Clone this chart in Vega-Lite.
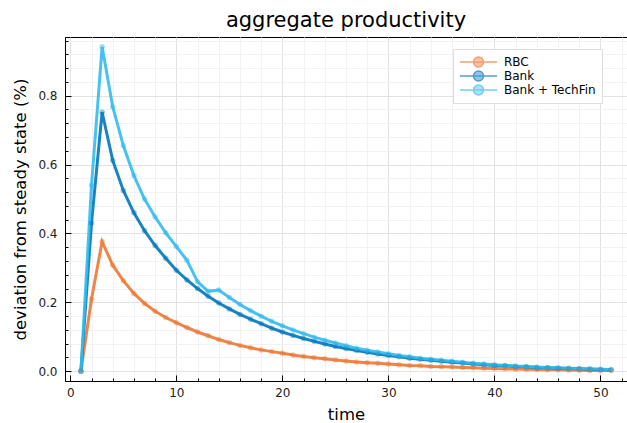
{
  "$schema": "https://vega.github.io/schema/vega-lite/v6.json",
  "width": 562,
  "height": 344,
  "autosize": {"type": "none"},
  "padding": {"left": 65, "top": 37, "right": 0, "bottom": 42},
  "background": "white",
  "title": {"text": "aggregate productivity", "font": "DejaVu Sans", "fontSize": 21, "fontWeight": "normal", "color": "#000", "anchor": "middle", "offset": 6},
  "config": {
    "view": {"stroke": "#000", "strokeWidth": 1},
    "font": "DejaVu Sans"
  },
  "data": {"values": [
    {"t":1,"s":"RBC","v":0},{"t":2,"s":"RBC","v":0.21},{"t":3,"s":"RBC","v":0.376},{"t":4,"s":"RBC","v":0.308},{"t":5,"s":"RBC","v":0.263},{"t":6,"s":"RBC","v":0.226},{"t":7,"s":"RBC","v":0.197},{"t":8,"s":"RBC","v":0.174},{"t":9,"s":"RBC","v":0.156},{"t":10,"s":"RBC","v":0.141},
    {"t":11,"s":"RBC","v":0.127},{"t":12,"s":"RBC","v":0.114},{"t":13,"s":"RBC","v":0.103},{"t":14,"s":"RBC","v":0.092},{"t":15,"s":"RBC","v":0.083},{"t":16,"s":"RBC","v":0.075},{"t":17,"s":"RBC","v":0.068},{"t":18,"s":"RBC","v":0.062},{"t":19,"s":"RBC","v":0.057},{"t":20,"s":"RBC","v":0.052},
    {"t":21,"s":"RBC","v":0.047},{"t":22,"s":"RBC","v":0.043},{"t":23,"s":"RBC","v":0.039},{"t":24,"s":"RBC","v":0.036},{"t":25,"s":"RBC","v":0.033},{"t":26,"s":"RBC","v":0.03},{"t":27,"s":"RBC","v":0.027},{"t":28,"s":"RBC","v":0.025},{"t":29,"s":"RBC","v":0.023},{"t":30,"s":"RBC","v":0.021},
    {"t":31,"s":"RBC","v":0.019},{"t":32,"s":"RBC","v":0.017},{"t":33,"s":"RBC","v":0.016},{"t":34,"s":"RBC","v":0.014},{"t":35,"s":"RBC","v":0.013},{"t":36,"s":"RBC","v":0.012},{"t":37,"s":"RBC","v":0.011},{"t":38,"s":"RBC","v":0.01},{"t":39,"s":"RBC","v":0.009},{"t":40,"s":"RBC","v":0.008},
    {"t":41,"s":"RBC","v":0.007},{"t":42,"s":"RBC","v":0.0065},{"t":43,"s":"RBC","v":0.006},{"t":44,"s":"RBC","v":0.005},{"t":45,"s":"RBC","v":0.0045},{"t":46,"s":"RBC","v":0.004},{"t":47,"s":"RBC","v":0.0035},{"t":48,"s":"RBC","v":0.003},{"t":49,"s":"RBC","v":0.0025},{"t":50,"s":"RBC","v":0.002},{"t":51,"s":"RBC","v":0.002},
    {"t":1,"s":"Bank","v":0},{"t":2,"s":"Bank","v":0.43},{"t":3,"s":"Bank","v":0.752},{"t":4,"s":"Bank","v":0.612},{"t":5,"s":"Bank","v":0.525},{"t":6,"s":"Bank","v":0.46},{"t":7,"s":"Bank","v":0.408},{"t":8,"s":"Bank","v":0.365},{"t":9,"s":"Bank","v":0.328},{"t":10,"s":"Bank","v":0.293},
    {"t":11,"s":"Bank","v":0.265},{"t":12,"s":"Bank","v":0.24},{"t":13,"s":"Bank","v":0.218},{"t":14,"s":"Bank","v":0.198},{"t":15,"s":"Bank","v":0.181},{"t":16,"s":"Bank","v":0.165},{"t":17,"s":"Bank","v":0.151},{"t":18,"s":"Bank","v":0.138},{"t":19,"s":"Bank","v":0.125},{"t":20,"s":"Bank","v":0.114},
    {"t":21,"s":"Bank","v":0.104},{"t":22,"s":"Bank","v":0.095},{"t":23,"s":"Bank","v":0.087},{"t":24,"s":"Bank","v":0.079},{"t":25,"s":"Bank","v":0.072},{"t":26,"s":"Bank","v":0.066},{"t":27,"s":"Bank","v":0.06},{"t":28,"s":"Bank","v":0.055},{"t":29,"s":"Bank","v":0.05},{"t":30,"s":"Bank","v":0.046},
    {"t":31,"s":"Bank","v":0.042},{"t":32,"s":"Bank","v":0.038},{"t":33,"s":"Bank","v":0.035},{"t":34,"s":"Bank","v":0.032},{"t":35,"s":"Bank","v":0.029},{"t":36,"s":"Bank","v":0.026},{"t":37,"s":"Bank","v":0.024},{"t":38,"s":"Bank","v":0.021},{"t":39,"s":"Bank","v":0.019},{"t":40,"s":"Bank","v":0.017},
    {"t":41,"s":"Bank","v":0.016},{"t":42,"s":"Bank","v":0.014},{"t":43,"s":"Bank","v":0.013},{"t":44,"s":"Bank","v":0.011},{"t":45,"s":"Bank","v":0.01},{"t":46,"s":"Bank","v":0.009},{"t":47,"s":"Bank","v":0.008},{"t":48,"s":"Bank","v":0.007},{"t":49,"s":"Bank","v":0.006},{"t":50,"s":"Bank","v":0.005},{"t":51,"s":"Bank","v":0.004},
    {"t":1,"s":"Bank + TechFin","v":0},{"t":2,"s":"Bank + TechFin","v":0.54},{"t":3,"s":"Bank + TechFin","v":0.942},{"t":4,"s":"Bank + TechFin","v":0.768},{"t":5,"s":"Bank + TechFin","v":0.655},{"t":6,"s":"Bank + TechFin","v":0.568},{"t":7,"s":"Bank + TechFin","v":0.5},{"t":8,"s":"Bank + TechFin","v":0.448},{"t":9,"s":"Bank + TechFin","v":0.402},{"t":10,"s":"Bank + TechFin","v":0.362},
    {"t":11,"s":"Bank + TechFin","v":0.322},{"t":12,"s":"Bank + TechFin","v":0.26},{"t":13,"s":"Bank + TechFin","v":0.232},{"t":14,"s":"Bank + TechFin","v":0.236},{"t":15,"s":"Bank + TechFin","v":0.214},{"t":16,"s":"Bank + TechFin","v":0.194},{"t":17,"s":"Bank + TechFin","v":0.176},{"t":18,"s":"Bank + TechFin","v":0.16},{"t":19,"s":"Bank + TechFin","v":0.145},{"t":20,"s":"Bank + TechFin","v":0.132},
    {"t":21,"s":"Bank + TechFin","v":0.12},{"t":22,"s":"Bank + TechFin","v":0.109},{"t":23,"s":"Bank + TechFin","v":0.099},{"t":24,"s":"Bank + TechFin","v":0.09},{"t":25,"s":"Bank + TechFin","v":0.082},{"t":26,"s":"Bank + TechFin","v":0.074},{"t":27,"s":"Bank + TechFin","v":0.067},{"t":28,"s":"Bank + TechFin","v":0.061},{"t":29,"s":"Bank + TechFin","v":0.056},{"t":30,"s":"Bank + TechFin","v":0.051},
    {"t":31,"s":"Bank + TechFin","v":0.046},{"t":32,"s":"Bank + TechFin","v":0.042},{"t":33,"s":"Bank + TechFin","v":0.038},{"t":34,"s":"Bank + TechFin","v":0.035},{"t":35,"s":"Bank + TechFin","v":0.032},{"t":36,"s":"Bank + TechFin","v":0.029},{"t":37,"s":"Bank + TechFin","v":0.026},{"t":38,"s":"Bank + TechFin","v":0.023},{"t":39,"s":"Bank + TechFin","v":0.021},{"t":40,"s":"Bank + TechFin","v":0.019},
    {"t":41,"s":"Bank + TechFin","v":0.017},{"t":42,"s":"Bank + TechFin","v":0.015},{"t":43,"s":"Bank + TechFin","v":0.014},{"t":44,"s":"Bank + TechFin","v":0.012},{"t":45,"s":"Bank + TechFin","v":0.011},{"t":46,"s":"Bank + TechFin","v":0.01},{"t":47,"s":"Bank + TechFin","v":0.009},{"t":48,"s":"Bank + TechFin","v":0.008},{"t":49,"s":"Bank + TechFin","v":0.007},{"t":50,"s":"Bank + TechFin","v":0.006},{"t":51,"s":"Bank + TechFin","v":0.005}
  ]},
  "encoding": {
    "x": {"field": "t", "type": "quantitative",
      "scale": {"domain": [-0.5, 52.5], "nice": false, "zero": false},
      "axis": {
        "title": "time", "titleFont": "DejaVu Sans", "titleFontSize": 16.5, "titleFontWeight": "normal", "titleColor": "#000", "titlePadding": 8,
        "values": [0,2,4,6,8,10,12,14,16,18,20,22,24,26,28,30,32,34,36,38,40,42,44,46,48,50,52],
        "labelExpr": "datum.value % 10 === 0 ? datum.label : ''",
        "labelFontSize": 12, "labelColor": "#222", "labelFont": "DejaVu Sans", "labelPadding": 12,
        "domainColor": "#000",
        "tickColor": "#000",
        "tickSize": {"condition": {"test": "datum.value % 10 === 0", "value": -6}, "value": -3},
        "gridColor": {"condition": {"test": "datum.value % 10 === 0", "value": "#e1e1e6"}, "value": "#f2f2f4"},
        "grid": true
      }},
    "y": {"field": "v", "type": "quantitative",
      "scale": {"domain": [-0.0283, 0.9703], "nice": false, "zero": false},
      "axis": {
        "title": "deviation from steady state (%)", "titleFont": "DejaVu Sans", "titleFontSize": 16.5, "titleFontWeight": "normal", "titleColor": "#000", "titlePadding": 9,
        "values": [0,0.04,0.08,0.12,0.16,0.2,0.24,0.28,0.32,0.36,0.4,0.44,0.48,0.52,0.56,0.6,0.64,0.68,0.72,0.76,0.8,0.84,0.88,0.92,0.96],
        "labelExpr": "round(datum.value*100) % 20 === 0 ? format(datum.value, '.1f') : ''",
        "labelFontSize": 12, "labelColor": "#222", "labelFont": "DejaVu Sans", "labelPadding": 14,
        "domainColor": "#000",
        "tickColor": "#000",
        "tickSize": {"condition": {"test": "round(datum.value*100) % 20 === 0", "value": -6}, "value": -3},
        "gridColor": {"condition": {"test": "round(datum.value*100) % 20 === 0", "value": "#e1e1e6"}, "value": "#f2f2f4"},
        "grid": true
      }},
    "color": {"field": "s", "type": "nominal",
      "scale": {"domain": ["RBC", "Bank", "Bank + TechFin"], "range": ["#EE7733", "#0077BB", "#33BBEE"]},
      "legend": {
        "title": null, "orient": "none", "legendX": 388, "legendY": 12,
        "padding": 6, "strokeColor": "#dddddd", "fillColor": "white",
        "labelFont": "DejaVu Sans", "labelFontSize": 12, "labelColor": "#000",
        "symbolType": "M-1,0H1M-0.27,0a0.27,0.27 0 1,0 0.54,0a0.27,0.27 0 1,0 -0.54,0",
        "symbolSize": 1369, "symbolStrokeWidth": 1.5, "symbolOpacity": 0.7,
        "clipHeight": 14, "rowPadding": 0, "labelOffset": 6,
        "encode": {"symbols": {"update": {"fill": {"scale": "color", "field": "value"}, "fillOpacity": {"value": 0.6}}}}
      }}
  },
  "layer": [
    {"mark": {"type": "line", "strokeWidth": 3, "opacity": 0.9}},
    {"mark": {"type": "point", "filled": true, "size": 30, "opacity": 0.45}}
  ]
}
